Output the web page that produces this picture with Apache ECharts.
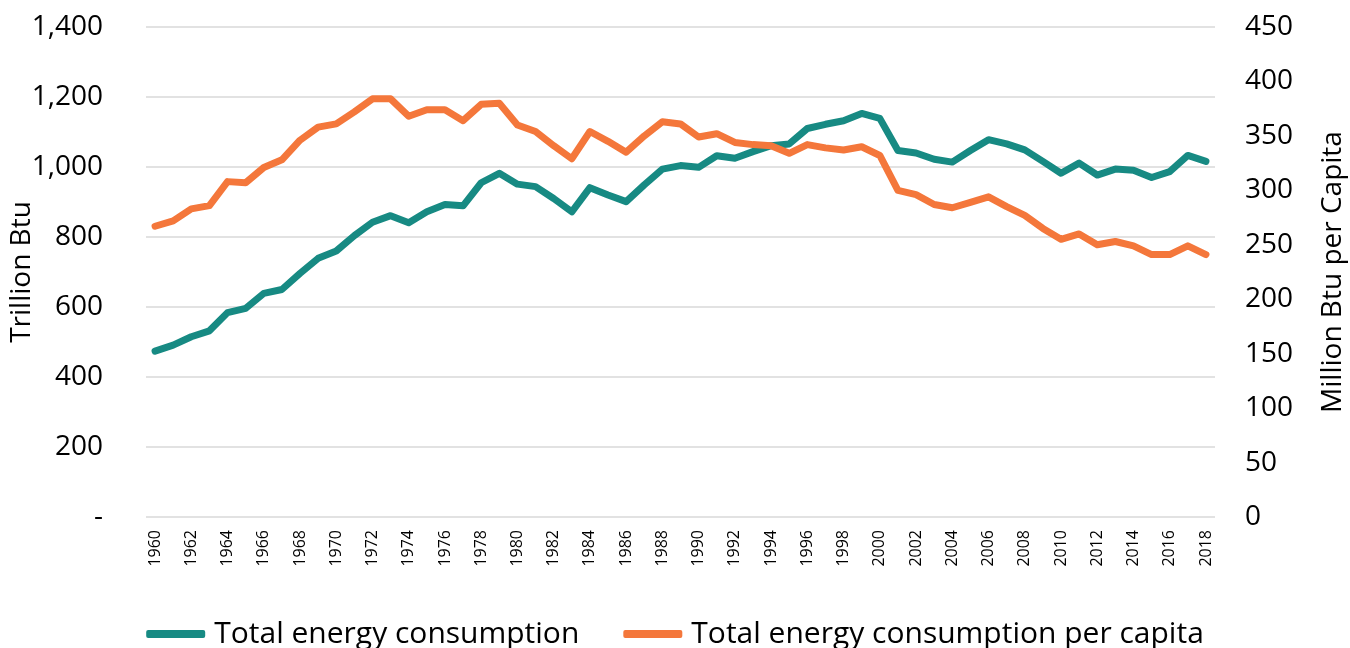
<!DOCTYPE html>
<html lang="en">
<head>
    <meta charset="UTF-8">
    <title>Energy consumption</title>
    <script src="https://cdn.jsdelivr.net/npm/echarts@6/dist/echarts.min.js"></script>
    <style>
        html, body { margin: 0; padding: 0; background: #fff; }
        #chart { width: 1350px; height: 648px; }
    </style>
</head>
<body>
<div id="chart"></div>
<script type="text/javascript">
    // years 1960 - 2018
    var years = [];
    for (var yr = 1960; yr <= 2018; yr++) { years.push(String(yr)); }

    // Trillion Btu (left axis)
    var totalEnergy = [
        474, 491, 515, 532, 584, 596, 639, 650, 696, 739,
        760, 804, 842, 861, 841, 872, 893, 889, 955, 982,
        951, 944, 910, 872, 941, 920, 901, 949, 994, 1004,
        999, 1032, 1025, 1044, 1061, 1066, 1110, 1122, 1132, 1153,
        1139, 1047, 1040, 1022, 1014, 1047, 1078, 1066, 1049, 1016,
        982, 1011, 977, 994, 991, 970, 987, 1033, 1016
    ];

    // Million Btu per capita (right axis)
    var perCapita = [
        267, 272, 283, 286, 308, 307, 321, 328, 346, 358,
        361, 372, 384, 384, 368, 374, 374, 364, 379, 380,
        360, 354, 341, 329, 354, 345, 335, 350, 363, 361,
        349, 352, 344, 342, 341, 334, 342, 339, 337, 340,
        332, 300, 296, 287, 284, 289, 294, 285, 277, 265,
        255, 260, 250, 253, 249, 241, 241, 249, 241
    ];

    var leftTicks = { min: 0, max: 1400, interval: 200 };
    var rightTicks = { min: 0, max: 450, interval: 50 };

    var font = '"Open Sans", "DejaVu Sans", sans-serif';
    var teal = '#178a83';
    var orange = '#f4773b';

    var myChart = echarts.init(document.getElementById('chart'), null, { renderer: 'canvas' });

    var option = {
        animation: false,
        backgroundColor: '#fff',
        textStyle: { fontFamily: font, color: '#000' },
        grid: { left: 146, right: 135, top: 27, bottom: 131, outerBoundsMode: 'none' },
        legend: {
            top: 614,
            left: 'center',
            itemWidth: 59,
            itemHeight: 8,
            itemGap: 44,
            icon: 'roundRect',
            textStyle: { fontFamily: font, fontSize: 30, color: '#000', padding: [0, 0, 0, 4] },
            data: ['Total energy consumption', 'Total energy consumption per capita']
        },
        xAxis: {
            type: 'category',
            data: years,
            boundaryGap: true,
            axisLine: { show: false },
            axisTick: { show: false },
            axisLabel: {
                interval: 1,
                rotate: 90,
                margin: 13,
                fontSize: 16,
                color: '#000',
                fontFamily: font
            }
        },
        yAxis: [
            {
                type: 'value',
                min: leftTicks.min,
                max: leftTicks.max,
                interval: leftTicks.interval,
                name: 'Trillion Btu',
                nameLocation: 'middle',
                nameGap: 110,
                nameMoveOverlap: false,
                nameTextStyle: { fontSize: 28, color: '#000', fontFamily: font },
                axisLine: { show: false },
                axisTick: { show: false },
                axisLabel: {
                    margin: 43,
                    fontSize: 28,
                    color: '#000',
                    fontFamily: font,
                    formatter: function (v) {
                        return v === 0 ? '-' : v.toLocaleString('en-US');
                    }
                },
                splitLine: { lineStyle: { color: '#d9d9d9', width: 1.5 } }
            },
            {
                type: 'value',
                min: rightTicks.min,
                max: rightTicks.max,
                interval: rightTicks.interval,
                name: 'Million Btu per Capita',
                nameLocation: 'middle',
                nameGap: 104,
                nameRotate: 90,
                nameTextStyle: { fontSize: 28, color: '#000', fontFamily: font },
                axisLine: { show: false },
                axisTick: { show: false },
                axisLabel: { margin: 30, fontSize: 28, color: '#000', fontFamily: font },
                splitLine: { show: false }
            }
        ],
        series: [
            {
                name: 'Total energy consumption',
                type: 'line',
                yAxisIndex: 0,
                data: totalEnergy,
                symbol: 'none',
                color: teal,
                lineStyle: { color: teal, width: 7, cap: 'round', join: 'round' }
            },
            {
                name: 'Total energy consumption per capita',
                type: 'line',
                yAxisIndex: 1,
                data: perCapita,
                symbol: 'none',
                color: orange,
                lineStyle: { color: orange, width: 7, cap: 'round', join: 'round' }
            }
        ]
    };
    myChart.setOption(option);
</script>
</body>
</html>
